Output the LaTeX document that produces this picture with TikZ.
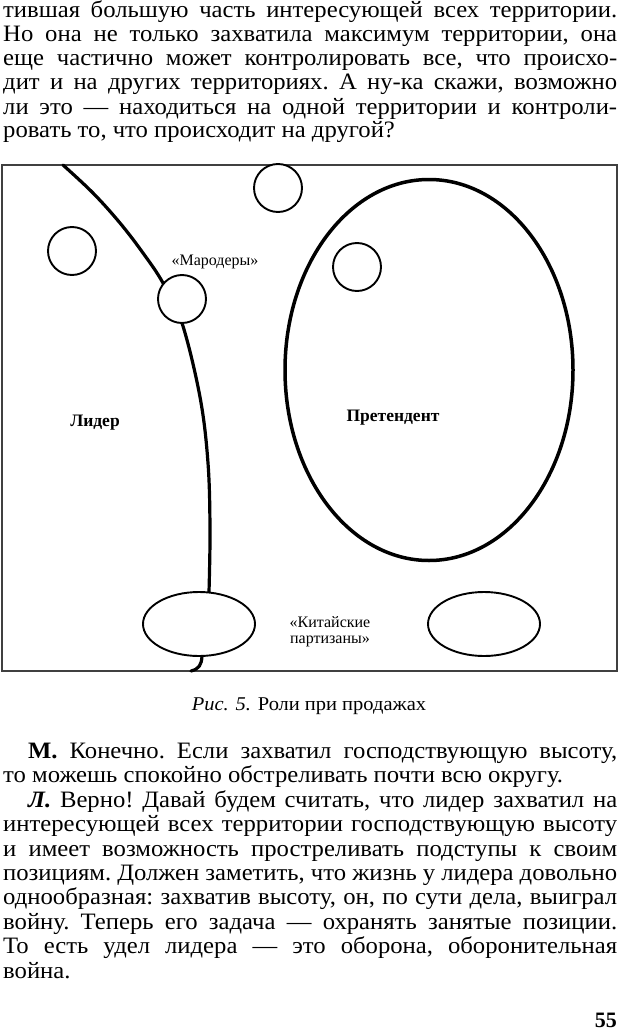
\documentclass[tikz,border=0pt]{standalone}
\usepackage{fontspec}
\setmainfont{Liberation Serif}
\newfontfamily\bodyserif{Liberation Serif}[FakeStretch=1.05]
\usetikzlibrary{shapes.geometric}

\newcommand{\bodyfont}{\bodyserif\fontsize{23.5}{24}\selectfont\frenchspacing}
\newcommand{\figfont}{\fontsize{16}{16}\selectfont}
\newcommand{\fullline}[1]{\makebox[614pt][s]{#1}}
\newcommand{\indline}[1]{\makebox[589pt][s]{#1}}

\tikzset{
  bodyline/.style={anchor=base west, inner sep=0pt, font=\bodyfont},
  smallcirc/.style={circle, draw, line width=1.9pt, fill=white, minimum size=48pt, inner sep=0pt},
  smallell/.style={ellipse, draw, line width=1.9pt, fill=white, minimum width=112pt, minimum height=64pt, inner sep=0pt},
  figlabel/.style={inner sep=0pt, font=\figfont, align=center},
  rolelabel/.style={anchor=base, inner sep=0pt, font=\fontsize{17.5}{17.5}\selectfont\bfseries},
}

\begin{document}
\begin{tikzpicture}[x=1pt, y=-1pt]
\useasboundingbox[fill=white] (0,0) rectangle (620,1030);

% text above the figure
\node[bodyline] (t1) at (3,18)   {\fullline{тившая большую часть интересующей всех территории.}};
\node[bodyline] (t2) at (3,42)   {\fullline{Но она не только захватила максимум территории, она}};
\node[bodyline] (t3) at (3,66)   {\fullline{еще частично может контролировать все, что происхо-}};
\node[bodyline] (t4) at (3,90)   {\fullline{дит и на других территориях. А ну-ка скажи, возможно}};
\node[bodyline] (t5) at (3,114)  {\fullline{ли это — находиться на одной территории и контроли-}};
\node[bodyline] (t6) at (3,137.5) {ровать то, что происходит на другой?};

% frame
\draw[line width=1.3pt, black!75] (2,165) rectangle (617,671);

% border line of the leader
\coordinate (ctop) at (63,165);
\coordinate (cbot) at (202,656);
\draw[line width=3.2pt, line cap=round] plot[smooth, tension=0.6] coordinates
  {(ctop) (93,193) (120,223) (143,253) (163,283) (182,323) (200,397) (208,463) (210,530) (209,592)};
\draw[line width=3.2pt, line cap=round] (cbot) .. controls (201.5,665) and (199,669) .. (191,671);

% circles and ellipses
\node[smallcirc] (free1) at (72,251) {};
\node[smallcirc] (free2) at (278,188) {};
\node[smallcirc] (maroder) at (182,299) {};
\node[ellipse, draw, line width=3.5pt, minimum width=288pt, minimum height=381pt, inner sep=0pt] (pretender) at (429,370) {};
\node[smallcirc] (free3) at (357,267) {};
\node[smallell] (partleft) at (199,624) {};
\node[smallell] (partright) at (484,624) {};

% labels
\node[figlabel, anchor=base] (marlabel) at (215,265) {«Мародеры»};
\node[rolelabel] (leader) at (95,426) {Лидер};
\node[rolelabel] (pretlabel) at (393,421) {Претендент};
\node[figlabel] (partlabel) at (330,632) {«Китайские\\партизаны»};

% caption
\node[anchor=base, inner sep=0pt, font=\bodyserif\fontsize{19.5}{19.5}\selectfont] (caption) at (309,710) {\textit{Рис. 5.} Роли при продажах};

% text below the figure
\node[bodyline] (b1) at (28,758)   {\indline{\textbf{М.} Конечно. Если захватил господствующую высоту,}};
\node[bodyline] (b2) at (3,782.5)  {то можешь спокойно обстреливать почти всю округу.};
\node[bodyline] (b3) at (28,807)   {\indline{\textbf{\textit{Л.}} Верно! Давай будем считать, что лидер захватил на}};
\node[bodyline] (b4) at (3,831.5)  {\fullline{интересующей всех территории господствующую высоту}};
\node[bodyline] (b5) at (3,856)    {\fullline{и имеет возможность простреливать подступы к своим}};
\node[bodyline] (b6) at (3,880)    {\fullline{позициям. Должен заметить, что жизнь у лидера довольно}};
\node[bodyline] (b7) at (3,904.5)  {\fullline{однообразная: захватив высоту, он, по сути дела, выиграл}};
\node[bodyline] (b8) at (3,929)    {\fullline{войну. Теперь его задача — охранять занятые позиции.}};
\node[bodyline] (b9) at (3,953.5)  {\fullline{То есть удел лидера — это оборона, оборонительная}};
\node[bodyline] (b10) at (3,978)   {война.};

% page number
\node[anchor=base east, inner sep=0pt, font=\fontsize{22}{22}\selectfont\bfseries] (pagenum) at (617,1027) {55};
\end{tikzpicture}
\end{document}
